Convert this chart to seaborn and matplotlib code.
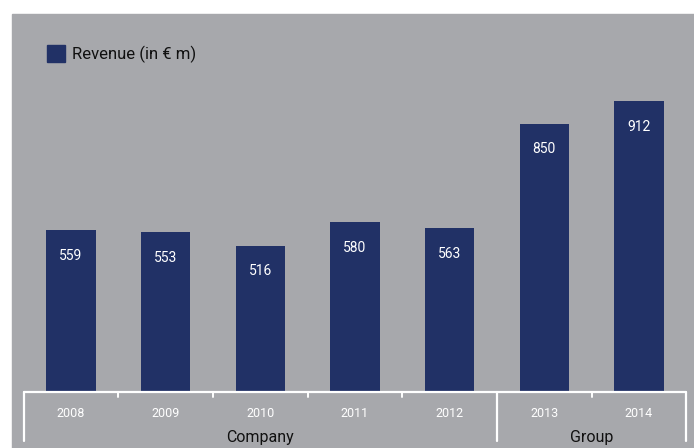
import matplotlib
matplotlib.use("Agg")
import matplotlib.pyplot as plt
import matplotlib.transforms as mtransforms
from matplotlib.patches import Rectangle
import seaborn as sns
import pandas as pd

# data
years = ["2008", "2009", "2010", "2011", "2012", "2013", "2014"]
revenue = [559, 553, 516, 580, 563, 850, 912]
groups = ["Company", "Company", "Company", "Company", "Company", "Group", "Group"]

bg_gray = "#a7a8ac"
bar_blue = "#213166"

sns.set_style("white")
plt.rcParams["font.family"] = ["Roboto", "DejaVu Sans"]

W, H = 694, 448
fig = plt.figure(figsize=(W / 100, H / 100), dpi=100)
fig.patch.set_facecolor("white")
fig.patches.append(Rectangle((12 / W, 0), 1 - 12 / W, (H - 14) / H,
                             transform=fig.transFigure, color=bg_gray, zorder=-5))

# axes placed in pixel terms
base_px = 392          # pixel row of the axis line (from top)
y_lo, y_hi = 115, 1000
px_per_unit = 0.365
ax_h = (y_hi - y_lo) * px_per_unit
ax = fig.add_axes([23.7 / W, (H - base_px) / H, 662.6 / W, ax_h / H])
ax.patch.set_alpha(0)

df = pd.DataFrame({"year": years, "revenue": revenue, "group": groups})
sns.barplot(data=df, x="year", y="revenue", color=bar_blue, saturation=1,
            width=0.52, linewidth=0, ax=ax, zorder=2)
ax.set_xlim(-0.5, len(years) - 0.5)
ax.set_ylim(y_lo, y_hi)

for i, v in enumerate(revenue):
    ax.annotate(str(v), (i, v), xytext=(0, -18.5), textcoords="offset points",
                ha="center", va="center", color="white", fontsize=10)

for s in ax.spines.values():
    s.set_visible(False)
ax.set_yticks([])
ax.set_xlabel("")
ax.set_ylabel("")
ax.tick_params(axis="x", length=0, pad=11, labelcolor="white", labelsize=9)

# axis line with group brackets
white = "white"
ax.axhline(y_lo, color=white, lw=1.6, clip_on=False, zorder=3)
trans = mtransforms.blended_transform_factory(ax.transData, ax.transAxes)
short = 5 / ax_h
long_ = 49 / ax_h
for xb in [0.5, 1.5, 2.5, 3.5, 5.5]:
    ax.plot([xb, xb], [0, -short], color=white, lw=1.4, transform=trans, clip_on=False)
for xb in [-0.5, 4.5, 6.5]:
    ax.plot([xb, xb], [0, -long_], color=white, lw=1.6, transform=trans, clip_on=False)

# group labels
for g in ["Company", "Group"]:
    idx = [i for i, gg in enumerate(groups) if gg == g]
    xc = (idx[0] + idx[-1]) / 2
    ax.text(xc, -50 / ax_h, g, transform=trans, ha="center", va="baseline",
            fontsize=11.5, color="#111111")

# legend
fig.patches.append(Rectangle((47 / W, 1 - 62 / H), 18 / W, 17 / H,
                             transform=fig.transFigure, color=bar_blue, zorder=3))
fig.text(72 / W, 1 - 54 / H, "Revenue (in € m)", ha="left", va="center",
         fontsize=12, color="#111111")

fig.savefig("out.png", dpi=100)
